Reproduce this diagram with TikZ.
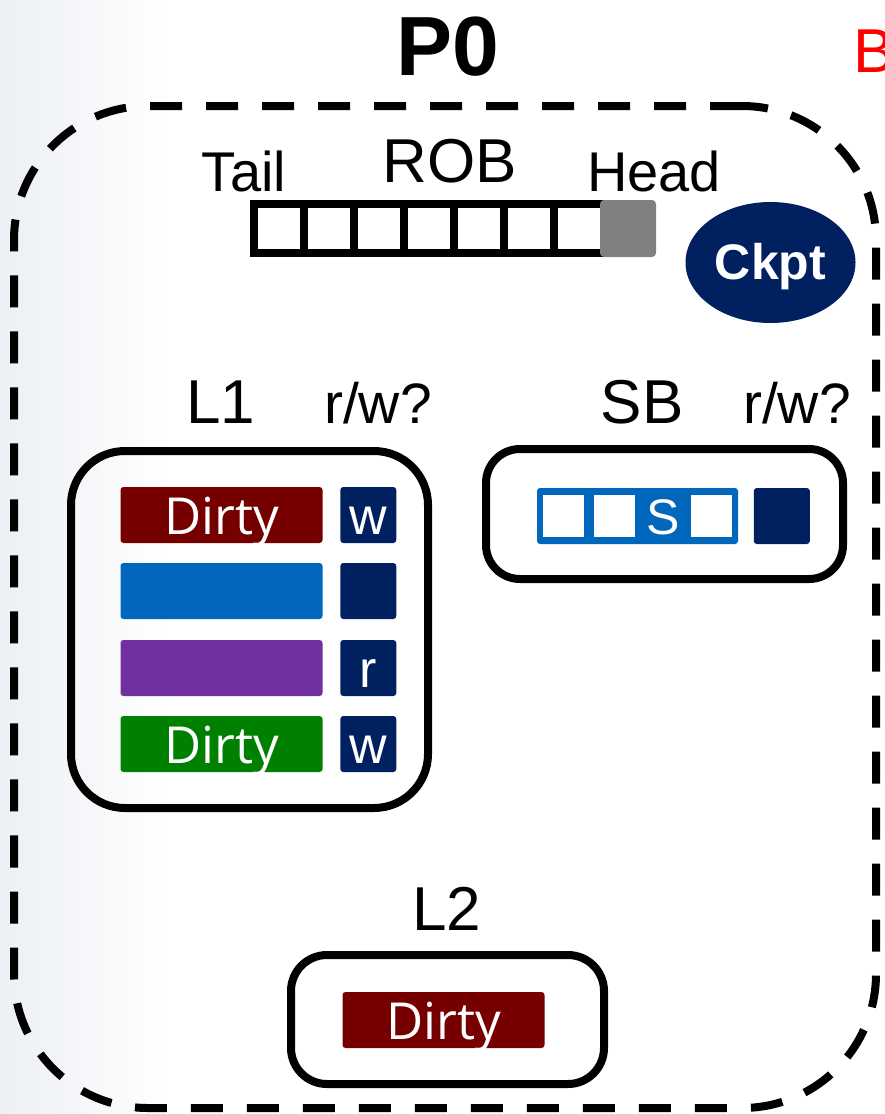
\documentclass[tikz,border=0pt]{standalone}
\usepackage{fontspec}
\setmainfont{Liberation Sans}
\newfontfamily\dirtyfont{Open Sans}
\usetikzlibrary{shapes.geometric, positioning}
\definecolor{navycache}{RGB}{0,32,96}
\definecolor{dirtyred}{RGB}{118,0,0}
\definecolor{lineblue}{RGB}{0,103,188}
\definecolor{linepurple}{RGB}{112,48,160}
\definecolor{linegreen}{RGB}{0,128,0}
\definecolor{headgray}{RGB}{128,128,128}
\definecolor{bgtint}{RGB}{236,239,244}

\begin{document}
\begin{tikzpicture}[
    x=0.5pt, y=-0.5pt,
    lbl/.style={anchor=base, inner sep=0pt, font=\fontsize{31}{31}\selectfont},
    cache/.style={draw=black, line width=4pt, inner sep=0pt},
    robcell/.style={draw=black, line width=4.3pt, fill=white, minimum width=25pt,
                    minimum height=24.5pt, inner sep=0pt},
    line/.style={minimum width=101pt, minimum height=28pt, inner sep=0pt, rounded corners=1.5pt,
                 text=white, font=\dirtyfont\fontsize{25.5}{25.5}\selectfont, text height=19pt, text depth=0pt},
    rw/.style={fill=navycache, minimum size=28pt, inner sep=0pt, rounded corners=1.5pt,
               text=white, font=\fontsize{26}{26}\selectfont, text height=19pt, text depth=0pt},
    sbcell/.style={fill=white, minimum width=20.5pt, minimum height=21pt, inner sep=0pt}
]
\useasboundingbox (0,0) rectangle (884,1114);
\shade[left color=bgtint, right color=white] (0,0) rectangle (170,1114);

\node[anchor=base, inner sep=0pt, font=\bfseries\fontsize{42}{42}\selectfont] (ptitle) at (448,75) {P0};
\node[anchor=base west, inner sep=0pt, text=red, font=\fontsize{31}{31}\selectfont] (bnext) at (853,72) {B};

\node[draw=black, dash pattern=on 16pt off 12pt, line width=4pt, rounded corners=67pt,
      minimum width=431pt, minimum height=501pt, inner sep=0pt] (pzero) at (445,607) {};

\node[lbl, font=\fontsize{28}{28}\selectfont] (tail) at (244,191) {Tail};
\node[lbl] (robname) at (450,182) {ROB};
\node[lbl, font=\fontsize{28}{28}\selectfont] (head) at (654,191) {Head};
\foreach \i in {0,...,6}
    \node[robcell] (rob\i) at (279+\i*50,228.5) {};
\node[fill=headgray, minimum width=28pt, minimum height=28.5pt, inner sep=0pt, rounded corners=2pt] (robhead) at (628,228.5) {};

\node[ellipse, fill=navycache, minimum width=85pt, minimum height=60.5pt, inner sep=0pt, text=white,
      font=\bfseries\fontsize{25}{25}\selectfont, text height=17pt, text depth=0pt] (ckpt) at (770.5,262.5) {Ckpt};

\node[lbl] (lonename) at (221,423) {L1};
\node[lbl, font=\fontsize{28.5}{28.5}\selectfont] (lonerw) at (378,423) {r/w?};
\node[cache, rounded corners=27pt, minimum width=178.5pt, minimum height=178.5pt] (lone) at (249.5,629.5) {};
\node[line, fill=dirtyred] (row1) at (221.5,515) {Dirty};
\node[line, fill=lineblue] (row2) at (221.5,591) {};
\node[line, fill=linepurple] (row3) at (221.5,668) {};
\node[line, fill=linegreen] (row4) at (221.5,744) {Dirty};
\node[rw, right=8.5pt of row1] (rw1) {w};
\node[rw, right=8.5pt of row2] (rw2) {};
\node[rw, right=8.5pt of row3] (rw3) {r};
\node[rw, right=8.5pt of row4] (rw4) {w};

\node[lbl] (sbname) at (642,423) {SB};
\node[lbl, font=\fontsize{28.5}{28.5}\selectfont] (sbrwname) at (797,423) {r/w?};
\node[cache, rounded corners=17pt, minimum width=178.5pt, minimum height=65pt] (sb) at (664.5,514) {};
\node[fill=lineblue, minimum width=100.5pt, minimum height=28pt, inner sep=0pt, rounded corners=1.5pt] (sbq) at (637.5,516) {};
\foreach \x [count=\i] in {563.5,614,711.5}
    \node[sbcell] (sbc\i) at (\x,516) {};
\node[inner sep=0pt, text=white, font=\fontsize{25}{25}\selectfont, text height=18pt, text depth=0pt] (sbs) at (663.5,516) {S};
\node[rw, right=7.5pt of sbq] (sbrw) {};

\node[lbl] (ltwoname) at (447,930) {L2};
\node[cache, rounded corners=18pt, minimum width=156.5pt, minimum height=64.5pt] (ltwo) at (447.5,1019.5) {};
\node[line, fill=dirtyred] (ltwodirty) at (443.5,1020) {Dirty};
\end{tikzpicture}
\end{document}
